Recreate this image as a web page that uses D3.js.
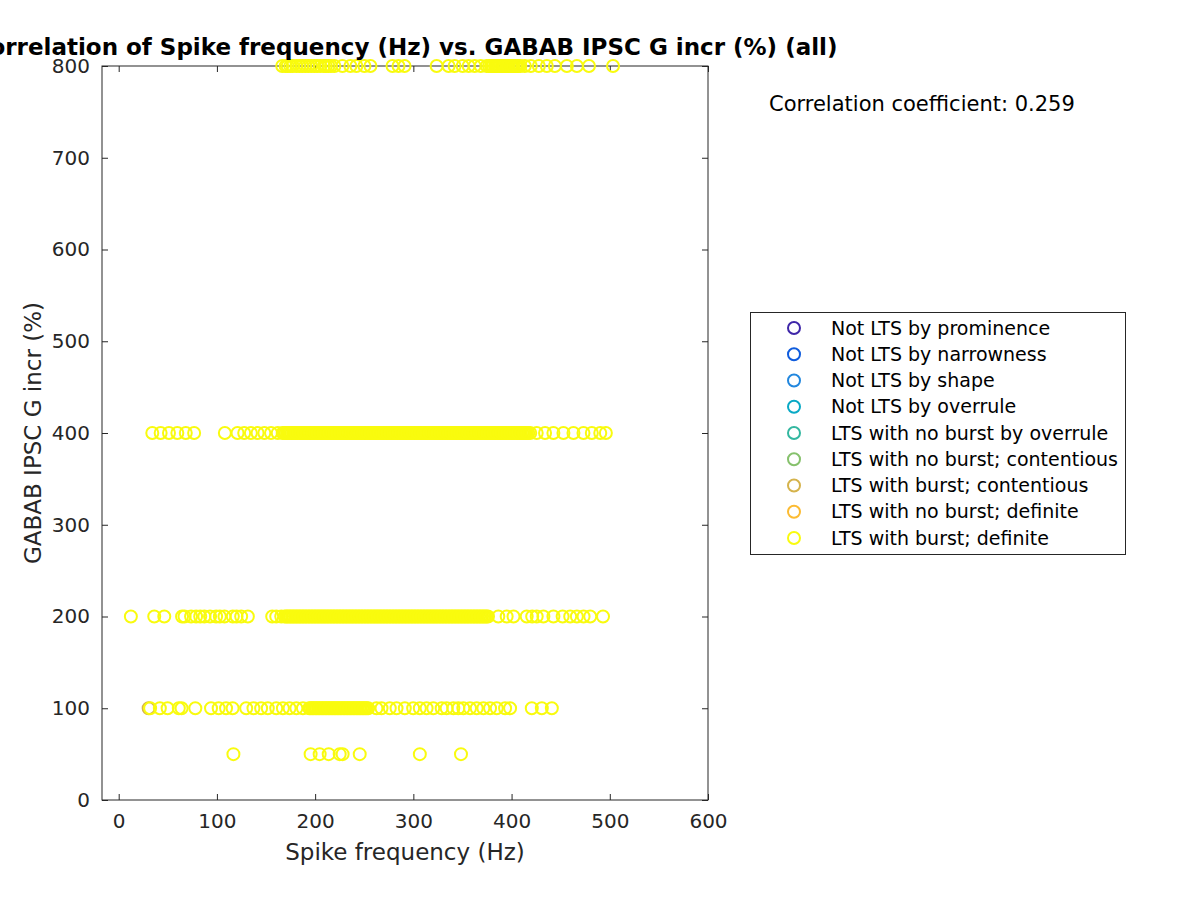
<!DOCTYPE html>
<html>
<head>
<meta charset="utf-8">
<script src="https://cdn.jsdelivr.net/npm/d3@7"></script>
<style>
  body { margin: 0; background: #fff; }
  svg { font-family: "DejaVu Sans", sans-serif; }
</style>
</head>
<body>
<svg width="1200" height="900"></svg>
<script>
// legend categories and their colours
var categories = ["Not LTS by prominence", "Not LTS by narrowness", "Not LTS by shape",
  "Not LTS by overrule", "LTS with no burst by overrule", "LTS with no burst; contentious",
  "LTS with burst; contentious", "LTS with no burst; definite", "LTS with burst; definite"];
var colors = ["#3e26a8", "#0f5cdd", "#2287de", "#09a9c5", "#33b7a0", "#86c16c", "#d5b34c", "#fcbb32", "#f9fb0e"];

// spike frequency values (Hz)
var freq800 = [166.5, 170, 172, 174.7, 177, 180.8, 184, 186.9, 190, 193, 196, 199.2, 202, 205.3, 209,
  211, 213.5, 216, 219.6, 227.8, 235.9, 242, 250.2, 256.3, 278.8, 284.9, 291, 323.7, 335.9, 342, 350.2,
  356.3, 362.4, 368.6, 374.7, 377, 379, 380, 381, 383, 384, 385, 386, 387, 388, 390, 391, 392, 393,
  395, 396, 397, 399, 400, 401, 402, 404, 405, 406, 407, 409, 413.5, 419.6, 427.8, 435.9, 444.1,
  456.3, 466.5, 478.8, 503.3];
var freq400 = [34.2, 42.7, 51.2, 59.7, 68.3, 76.8, 108.1, 121, 127.8, 134.6, 141.4, 148.3, 155.1, 161.9,
  167, 170, 173, 176, 179, 182, 184, 187, 190, 193, 196, 199, 201, 204, 207, 210, 213, 216, 218, 221,
  224, 227, 230, 233, 235, 238, 241, 244, 247, 250, 252, 255, 258, 261, 264, 267, 269, 272, 275, 278,
  281, 284, 286, 289, 292, 295, 298, 301, 303, 306, 309, 312, 315, 318, 320, 323, 326, 329, 332, 335,
  337, 340, 343, 346, 349, 352, 354, 357, 360, 363, 366, 369, 371, 374, 377, 380, 383, 386, 388, 391,
  394, 397, 400, 403, 405, 408, 411, 414, 417, 419, 425.6, 434.1, 442.6, 452.8, 463, 473.2, 481.7,
  490.3, 496];
var freq400b = [168.5, 171.5, 174.5, 177.5, 180.5, 185.5, 188.5, 191.5, 194.5, 197.5, 202.5, 205.5,
  208.5, 211.5, 214.5, 219.5, 222.5, 225.5, 228.5, 231.5, 236.5, 239.5, 242.5, 245.5, 248.5, 253.5,
  256.5, 259.5, 262.5, 265.5, 270.5, 273.5, 276.5, 279.5, 282.5, 287.5, 290.5, 293.5, 296.5, 299.5,
  304.5, 307.5, 310.5, 313.5, 316.5, 321.5, 324.5, 327.5, 330.5, 333.5, 338.5, 341.5, 344.5, 347.5,
  350.5, 355.5, 358.5, 361.5, 364.5, 367.5, 372.5, 375.5, 378.5, 381.5, 384.5, 389.5, 392.5, 395.5,
  398.5, 401.5, 406.5, 409.5, 412.5, 415.5];
var freq200 = [12.4, 36.2, 46.4, 64.5, 67, 73.7, 78.8, 83, 87.2, 93, 99.2, 103, 107.7, 116.2, 120, 124.7,
  131.5, 156.3, 160.4, 165.5, 169, 172, 175, 178, 181, 184, 187, 190, 193, 196, 199, 202, 205, 208,
  211, 214, 217, 220, 223, 226, 229, 232, 235, 238, 241, 244, 247, 250, 253, 256, 259, 262, 265, 268,
  271, 274, 277, 280, 283, 286, 289, 292, 295, 298, 301, 304, 307, 310, 313, 316, 319, 322, 325, 328,
  331, 334, 337, 340, 343, 346, 349, 352, 355, 358, 361, 364, 367, 370, 373, 376, 386.5, 395, 402,
  415.4, 421, 425.6, 432.4, 442.6, 452, 459.7, 466.5, 473.3, 480.1, 493.1];
var freq200b = [170.5, 173.5, 176.5, 179.5, 182.5, 185.5, 188.5, 191.5, 194.5, 197.5, 200.5, 203.5,
  206.5, 209.5, 212.5, 215.5, 218.5, 221.5, 224.5, 227.5, 230.5, 233.5, 236.5, 239.5, 242.5, 245.5,
  248.5, 251.5, 254.5, 257.5, 260.5, 263.5, 266.5, 269.5, 272.5, 275.5, 278.5, 281.5, 284.5, 287.5,
  290.5, 293.5, 296.5, 299.5, 302.5, 305.5, 308.5, 311.5, 314.5, 317.5, 320.5, 323.5, 326.5, 329.5,
  332.5, 335.5, 338.5, 341.5, 344.5, 347.5, 350.5, 353.5, 356.5, 359.5, 362.5, 365.5, 368.5, 371.5,
  374.5];
var freq100 = [32, 41.9, 49.8, 61.2, 64, 78, 94, 101.8, 109.3, 116, 129.8, 137.2, 145, 151.8, 160.4,
  167.2, 174, 180.9, 187.6, 194, 197, 200, 203, 206, 209, 212, 215, 218, 221, 224, 227, 230, 233, 236,
  239, 242, 245, 248, 251, 254, 262.4, 267.6, 276, 282.9, 291.3, 299.8, 306.6, 313.5, 320.3, 328.8,
  333.9, 340.7, 345.8, 350.9, 357.7, 364.5, 371.3, 378.1, 384.9, 393.4, 398.5, 420.6, 430.8, 441];
var freq100b = [195.5, 198.5, 201.5, 204.5, 207.5, 210.5, 213.5, 216.5, 219.5, 222.5, 225.5, 228.5,
  231.5, 234.5, 237.5, 240.5, 243.5, 246.5, 249.5, 252.5];
var freq50 = [116.8, 195.4, 204.6, 213.8, 225, 228, 245.4, 306.6, 348.5];

var rowFreqs = [freq800, freq400, freq400b, freq200, freq200b, freq100, freq100b, freq50];
var rowGaba = [800, 400, 400, 200, 200, 100, 100, 50];

// one contentious burst point hidden under the yellow ones
var otherFreq = [30.5];
var otherGaba = [100];
var otherCat = [6];

var xTicks = [0, 100, 200, 300, 400, 500, 600];
var yTicks = [0, 100, 200, 300, 400, 500, 600, 700, 800];
var corrText = "Correlation coefficient: 0.259";

function main(){
  var svg = d3.select("svg");
  var mLeft = 102, mTop = 66, width = 606, height = 734;

  var xScale = d3.scaleLinear().domain([-17, 600]).range([0, width]);
  var yScale = d3.scaleLinear().domain([0, 800]).range([height, 0]);

  var g = svg.append("g").attr("transform", "translate(" + mLeft + "," + mTop + ")");

  var pts = [];
  rowFreqs.forEach(function(arr, i){
    arr.forEach(function(f){ pts.push({x: f, y: rowGaba[i], c: 8}); });
  });
  var others = otherFreq.map(function(f, i){ return {x: f, y: otherGaba[i], c: otherCat[i]}; });

  // axes (ticks pointing inward, box on)
  function styleAxis(sel, hideText){
    sel.select(".domain").remove();
    sel.selectAll("line").attr("stroke", "#262626");
    sel.selectAll("text").attr("fill", "#262626").style("font-size", "20px")
      .style("font-family", "DejaVu Sans, sans-serif");
    if (hideText) sel.selectAll("text").remove();
  }
  g.append("g").attr("transform", "translate(0," + height + ")")
    .call(d3.axisBottom(xScale).tickValues(xTicks).tickSize(-6).tickPadding(14))
    .call(styleAxis);
  g.append("g")
    .call(d3.axisTop(xScale).tickValues(xTicks).tickSize(-6))
    .call(styleAxis, true);
  g.append("g")
    .call(d3.axisLeft(yScale).tickValues(yTicks).tickSize(-6).tickPadding(12))
    .call(styleAxis);
  g.append("g").attr("transform", "translate(" + width + ",0)")
    .call(d3.axisRight(yScale).tickValues(yTicks).tickSize(-6))
    .call(styleAxis, true);
  g.append("rect").attr("width", width).attr("height", height)
    .attr("fill", "none").attr("stroke", "#262626").attr("stroke-width", 1);

  // points
  g.selectAll(".other").data(others).enter().append("circle")
    .attr("class", "other")
    .attr("cx", function(d){ return xScale(d.x); })
    .attr("cy", function(d){ return yScale(d.y); })
    .attr("r", 6).attr("fill", "none")
    .attr("stroke", function(d){ return colors[d.c]; }).attr("stroke-width", 2);

  g.selectAll(".pt").data(pts).enter().append("circle")
    .attr("class", "pt")
    .attr("cx", function(d){ return xScale(d.x); })
    .attr("cy", function(d){ return yScale(d.y); })
    .attr("r", 6).attr("fill", "none")
    .attr("stroke", function(d){ return colors[d.c]; }).attr("stroke-width", 2);

  // labels
  svg.append("text").attr("x", mLeft + width / 2).attr("y", 860)
    .attr("text-anchor", "middle").attr("fill", "#262626").style("font-size", "23px")
    .text("Spike frequency (Hz)");
  svg.append("text").attr("transform", "translate(41," + (mTop + height / 2) + ") rotate(-90)")
    .attr("text-anchor", "middle").attr("fill", "#262626").style("font-size", "23px")
    .text("GABAB IPSC G incr (%)");
  svg.append("text").attr("x", mLeft + width / 2).attr("y", 55)
    .attr("text-anchor", "middle").attr("fill", "#000").style("font-size", "23px")
    .style("font-weight", "bold")
    .text("Correlation of Spike frequency (Hz) vs. GABAB IPSC G incr (%) (all)");
  svg.append("text").attr("x", 769).attr("y", 111)
    .attr("fill", "#000").style("font-size", "21px")
    .text(corrText);

  // legend
  var leg = svg.append("g");
  leg.append("rect").attr("x", 750.5).attr("y", 312.5).attr("width", 375).attr("height", 242)
    .attr("fill", "#fff").attr("stroke", "#262626").attr("stroke-width", 1);
  var rowY = d3.scalePoint().domain(categories).range([328, 538]);
  var items = leg.selectAll(".item").data(categories).enter().append("g");
  items.append("circle")
    .attr("cx", 794).attr("cy", function(d){ return rowY(d); })
    .attr("r", 6).attr("fill", "none").attr("stroke-width", 2)
    .attr("stroke", function(d, i){ return colors[i]; });
  items.append("text")
    .attr("x", 831).attr("y", function(d){ return rowY(d); })
    .attr("dy", "0.35em").attr("fill", "#000").style("font-size", "19px")
    .text(function(d){ return d; });
}
main();
</script>
</body>
</html>
